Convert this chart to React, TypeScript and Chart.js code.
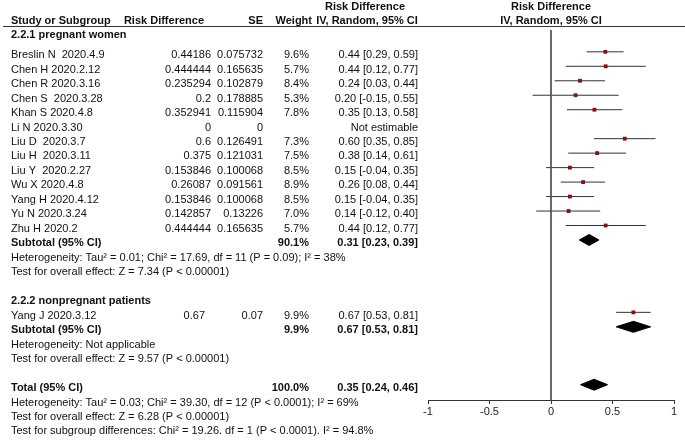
import React, { useEffect, useRef } from "react";
import { Chart, registerables } from "chart.js";

Chart.register(...registerables);

// ---------- DATA ----------
const group1Title = "2.2.1 pregnant women";
const group1Studies = [
  "Breslin N  2020.4.9",
  "Chen H 2020.2.12",
  "Chen R 2020.3.16",
  "Chen S  2020.3.28",
  "Khan S 2020.4.8",
  "Li N 2020.3.30",
  "Liu D  2020.3.7",
  "Liu H  2020.3.11",
  "Liu Y  2020.2.27",
  "Wu X 2020.4.8",
  "Yang H 2020.4.12",
  "Yu N 2020.3.24",
  "Zhu H 2020.2",
];
const group1RdText = ["0.44186", "0.444444", "0.235294", "0.2", "0.352941", "0", "0.6", "0.375", "0.153846", "0.26087", "0.153846", "0.142857", "0.444444"];
const group1SeText = ["0.075732", "0.165635", "0.102879", "0.178885", "0.115904", "0", "0.126491", "0.121031", "0.100068", "0.091561", "0.100068", "0.13226", "0.165635"];
const group1Est = [0.44186, 0.444444, 0.235294, 0.2, 0.352941, null, 0.6, 0.375, 0.153846, 0.26087, 0.153846, 0.142857, 0.444444];
const group1Low = [0.29, 0.12, 0.03, -0.15, 0.13, null, 0.35, 0.14, -0.04, 0.08, -0.04, -0.12, 0.12];
const group1High = [0.59, 0.77, 0.44, 0.55, 0.58, null, 0.85, 0.61, 0.35, 0.44, 0.35, 0.4, 0.77];
const group1Weight = [9.6, 5.7, 8.4, 5.3, 7.8, null, 7.3, 7.5, 8.5, 8.9, 8.5, 7.0, 5.7];

const group2Title = "2.2.2 nonpregnant patients";
const group2Studies = ["Yang J 2020.3.12"];
const group2RdText = ["0.67"];
const group2SeText = ["0.07"];
const group2Est = [0.67];
const group2Low = [0.53];
const group2High = [0.81];
const group2Weight = [9.9];

const summaryLabels = ["Subtotal (95% CI)", "Subtotal (95% CI)", "Total (95% CI)"];
const summaryEst = [0.31, 0.67, 0.35];
const summaryLow = [0.23, 0.53, 0.24];
const summaryHigh = [0.39, 0.81, 0.46];
const summaryWeight = [90.1, 9.9, 100.0];

const statLines1 = [
  "Heterogeneity: Tau\u00b2 = 0.01; Chi\u00b2 = 17.69, df = 11 (P = 0.09); I\u00b2 = 38%",
  "Test for overall effect: Z = 7.34 (P < 0.00001)",
];
const statLines2 = [
  "Heterogeneity: Not applicable",
  "Test for overall effect: Z = 9.57 (P < 0.00001)",
];
const statLinesTotal = [
  "Heterogeneity: Tau\u00b2 = 0.03; Chi\u00b2 = 39.30, df = 12 (P < 0.0001); I\u00b2 = 69%",
  "Test for overall effect: Z = 6.28 (P < 0.00001)",
  "Test for subgroup differences: Chi\u00b2 = 19.26. df = 1 (P < 0.0001). I\u00b2 = 94.8%",
];

const xTicks = [-1, -0.5, 0, 0.5, 1];
const xTickLabels = ["-1", "-0.5", "0", "0.5", "1"];

// ---------- LAYOUT (row indices) ----------
const W = 685;
const H = 443;
const ROW0_PX = 48.7;
const ROW_H = 14.74;
const g1StartRow = 0;
const g1SummaryRow = 13;
const g2TitleRow = 17;
const g2StartRow = 18;
const g2SummaryRow = 19;
const totalRow = 23;
const headerLineRow = (26.5 - ROW0_PX) / ROW_H;
const axisRow = (403.5 - ROW0_PX) / ROW_H;
const diamondHalf = 0.38;

const FONT = '"Liberation Sans", Arial, sans-serif';

function fmtCI(e: number, l: number, h: number) {
  return `${e.toFixed(2)} [${l.toFixed(2)}, ${h.toFixed(2)}]`;
}

export default function App() {
  const ref = useRef<HTMLCanvasElement | null>(null);

  useEffect(() => {
    if (!ref.current) return;
    document.body.style.margin = "0";

    const datasets: any[] = [];
    // zero line
    datasets.push({
      data: [{ x: 0, y: headerLineRow }, { x: 0, y: axisRow }],
      borderColor: "#555",
      borderWidth: 1,
      pointRadius: 0,
      fill: false,
    });
    // CI lines
    const ciLine = (lo: number, hi: number, row: number) => ({
      data: [{ x: lo, y: row }, { x: hi, y: row }],
      borderColor: "#333",
      borderWidth: 1,
      pointRadius: 0,
      fill: false,
    });
    const points: { x: number; y: number }[] = [];
    group1Est.forEach((e, i) => {
      if (e === null) return;
      datasets.push(ciLine(group1Low[i] as number, group1High[i] as number, g1StartRow + i));
      points.push({ x: e, y: g1StartRow + i });
    });
    group2Est.forEach((e, i) => {
      datasets.push(ciLine(group2Low[i], group2High[i], g2StartRow + i));
      points.push({ x: e, y: g2StartRow + i });
    });
    datasets.push({
      data: points,
      showLine: false,
      pointStyle: "rect",
      pointRadius: 2.7,
      pointBackgroundColor: "#b00000",
      pointBorderColor: "#b00000",
      pointBorderWidth: 0,
    });
    const sRows = [g1SummaryRow, g2SummaryRow, totalRow];
    summaryEst.forEach((e, i) => {
      const r = sRows[i];
      datasets.push({
        data: [
          { x: summaryLow[i], y: r },
          { x: e, y: r - diamondHalf },
          { x: summaryHigh[i], y: r },
          { x: e, y: r + diamondHalf },
          { x: summaryLow[i], y: r },
        ],
        borderColor: "#000",
        backgroundColor: "#000",
        borderWidth: 1,
        pointRadius: 0,
        fill: "shape",
        tension: 0,
      });
    });

    const textPlugin = {
      id: "forestText",
      afterDraw(chart: any) {
        const ctx = chart.ctx as CanvasRenderingContext2D;
        const ys = chart.scales.y;
        const ty = (row: number) => ys.getPixelForValue(row) + 3.3;
        const txt = (s: string, x: number, y: number, align: CanvasTextAlign, bold = false) => {
          ctx.font = `${bold ? "bold " : ""}11px ${FONT}`;
          ctx.textAlign = align;
          ctx.textBaseline = "middle";
          ctx.fillStyle = "#111";
          ctx.fillText(s, x, y);
        };
        ctx.save();
        // headers
        txt("Risk Difference", 365, 6.5, "center", true);
        txt("Risk Difference", 551, 6.5, "center", true);
        txt("Study or Subgroup", 11, 21, "left", true);
        txt("Risk Difference", 204, 21, "right", true);
        txt("SE", 263, 21, "right", true);
        txt("Weight", 312, 21, "right", true);
        txt("IV, Random, 95% CI", 367, 21, "center", true);
        txt("IV, Random, 95% CI", 551, 21, "center", true);
        ctx.strokeStyle = "#333";
        ctx.lineWidth = 1;
        ctx.beginPath();
        ctx.moveTo(3, 26.5);
        ctx.lineTo(W, 26.5);
        ctx.stroke();

        const colName = 11, colRd = 211, colSe = 263, colW = 309, colCI = 418;
        txt(group1Title, colName, 35, "left", true);
        group1Studies.forEach((s, i) => {
          const y = ty(g1StartRow + i);
          txt(s, colName, y, "left");
          txt(group1RdText[i], colRd, y, "right");
          txt(group1SeText[i], colSe, y, "right");
          const w = group1Weight[i];
          const e = group1Est[i];
          if (w !== null) txt(w.toFixed(1) + "%", colW, y, "right");
          if (e === null) txt("Not estimable", colCI, y, "right");
          else txt(fmtCI(e, group1Low[i] as number, group1High[i] as number), colCI, y, "right");
        });
        txt(group2Title, colName, ty(g2TitleRow), "left", true);
        group2Studies.forEach((s, i) => {
          const y = ty(g2StartRow + i);
          txt(s, colName, y, "left");
          txt(group2RdText[i], colRd - 6, y, "right");
          txt(group2SeText[i], colSe, y, "right");
          txt(group2Weight[i].toFixed(1) + "%", colW, y, "right");
          txt(fmtCI(group2Est[i], group2Low[i], group2High[i]), colCI, y, "right");
        });
        summaryLabels.forEach((s, i) => {
          const y = ty(sRows[i]);
          txt(s, colName, y, "left", true);
          txt(summaryWeight[i].toFixed(1) + "%", colW, y, "right", true);
          txt(fmtCI(summaryEst[i], summaryLow[i], summaryHigh[i]), colCI, y, "right", true);
        });
        statLines1.forEach((s, i) => txt(s, colName, ty(g1SummaryRow + 1 + i), "left"));
        statLines2.forEach((s, i) => txt(s, colName, ty(g2SummaryRow + 1 + i), "left"));
        statLinesTotal.forEach((s, i) => txt(s, colName, ty(totalRow + 1 + i), "left"));
        ctx.restore();
      },
    };

    const chart = new Chart(ref.current, {
      type: "line",
      data: { datasets },
      options: {
        animation: false,
        responsive: false,
        maintainAspectRatio: false,
        layout: { padding: { left: 428, right: W - 674, top: 0, bottom: 0 } },
        plugins: { legend: { display: false }, tooltip: { enabled: false } },
        elements: { line: { tension: 0 } },
        scales: {
          x: {
            type: "linear",
            min: -1,
            max: 1,
            position: { y: axisRow } as any,
            afterBuildTicks: (scale: any) => {
              scale.ticks = xTicks.map((v) => ({ value: v }));
            },
            ticks: {
              font: { family: FONT, size: 11 },
              color: "#222",
              padding: 2,
              autoSkip: false,
              maxRotation: 0,
              callback: (v: any) => {
                const idx = xTicks.indexOf(Number(v));
                return idx >= 0 ? xTickLabels[idx] : "";
              },
            },
            grid: {
              drawOnChartArea: false,
              drawTicks: true,
              tickLength: 3,
              color: "#333",
            },
            border: { display: true, color: "#333", width: 1 },
          },
          y: {
            type: "linear",
            display: false,
            reverse: true,
            min: -ROW0_PX / ROW_H,
            max: (H - ROW0_PX) / ROW_H,
          },
        },
      },
      plugins: [textPlugin],
    } as any);
    return () => chart.destroy();
  }, []);

  return (
    <div style={{ position: "absolute", left: 0, top: 0, width: W, height: H, background: "#fff" }}>
      <canvas ref={ref} width={W} height={H} style={{ width: W, height: H, display: "block" }} />
    </div>
  );
}
